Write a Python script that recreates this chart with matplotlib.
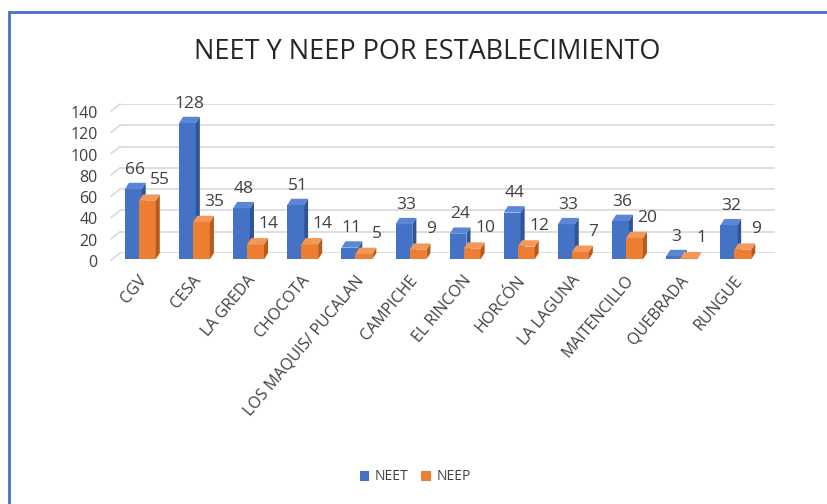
import matplotlib
matplotlib.use('Agg')
import matplotlib.pyplot as plt
import matplotlib.transforms as mtransforms
from matplotlib.patches import Polygon, Rectangle, Patch

plt.rcParams['font.family'] = ['Open Sans', 'DejaVu Sans']

# data
establecimientos = ['CGV', 'CESA', 'LA GREDA', 'CHOCOTA', 'LOS MAQUIS/ PUCALAN', 'CAMPICHE',
                    'EL RINCON', 'HORCÓN', 'LA LAGUNA', 'MAITENCILLO', 'QUEBRADA', 'RUNGUE']
neet = [66, 128, 48, 51, 11, 33, 24, 44, 33, 36, 3, 32]
neep = [55, 35, 14, 14, 5, 9, 10, 12, 7, 20, 1, 9]
yticks = [0, 20, 40, 60, 80, 100, 120, 140]

blue = '#4472C4'
blue_side = '#2F5597'
blue_top = '#5B86D6'
orange = '#ED7D31'
orange_side = '#B85A19'
orange_top = '#F4985A'
txt = '#404040'

fig = plt.figure(figsize=(8.27, 5.04), dpi=100)
ax = fig.add_axes([120 / 827, 1 - 253 / 504, (775 - 120) / 827, (253 - 104) / 504])
ax.set_ylim(0, 140)
ax.set_xlim(-0.46, 11.64)

dx = 0.075   # depth offset (x, data units)
dy = 6.0     # depth offset (y, data units)
w = 0.31


def bar3d(x, h, face, side, top, z):
    # back face sits at (x, 0..h); front is shifted down-left by the depth
    ax.add_patch(Rectangle((x - w / 2 - dx, -dy), w, h, facecolor=face,
                           edgecolor='none', zorder=z, clip_on=False))
    ax.add_patch(Polygon([(x + w / 2 - dx, -dy), (x + w / 2, 0), (x + w / 2, h),
                          (x + w / 2 - dx, h - dy)], closed=True, facecolor=side,
                         edgecolor='none', zorder=z, clip_on=False))
    ax.add_patch(Polygon([(x - w / 2 - dx, h - dy), (x - w / 2, h), (x + w / 2, h),
                          (x + w / 2 - dx, h - dy)], closed=True, facecolor=top,
                         edgecolor='none', zorder=z, clip_on=False))


for i, (a, b) in enumerate(zip(neet, neep)):
    xa = i - 0.14
    xb = i + 0.12
    bar3d(xa, a, blue, blue_side, blue_top, 3)
    bar3d(xb, b, orange, orange_side, orange_top, 4)
    ax.annotate(str(a), (xa - dx / 2, a), xytext=(0, 13), textcoords='offset pixels',
                ha='center', va='center', fontsize=12.5, color=txt, zorder=6)
    ax.annotate(str(b), (xb - dx / 2, b), xytext=(11, 14), textcoords='offset pixels',
                ha='center', va='center', fontsize=12.5, color=txt, zorder=6)

# gridlines with the little 3D slant at the left
for v in yticks:
    ax.axhline(v, color='#D9D9D9', lw=1.2, zorder=1)
    ax.plot([-0.46, -0.46 - 0.16], [v, v - 6.5], color='#D9D9D9', lw=1.2,
            clip_on=False, zorder=1)

ax.set_yticks(yticks)
ax.tick_params(axis='y', length=0, pad=16, labelsize=11.5, labelcolor=txt)
shift = mtransforms.ScaledTranslation(0, -8 / 100, fig.dpi_scale_trans)
for lab in ax.get_yticklabels():
    lab.set_transform(lab.get_transform() + shift)

ax.set_xticks(range(len(establecimientos)))
ax.set_xticklabels(establecimientos, rotation=50, ha='right', rotation_mode='anchor',
                   fontsize=11.5, color=txt)
ax.tick_params(axis='x', length=0, pad=14)
xshift = mtransforms.ScaledTranslation(-7 / 100, 0, fig.dpi_scale_trans)
for lab in ax.get_xticklabels():
    lab.set_transform(lab.get_transform() + xshift)
for s in ax.spines.values():
    s.set_visible(False)

fig.text(0.517, 1 - 52 / 504, 'NEET Y NEEP POR ESTABLECIMIENTO', ha='center', va='center',
         fontsize=19.5, color='#262626')

handles = [Patch(facecolor=blue, label='NEET'), Patch(facecolor=orange, label='NEEP')]
fig.legend(handles=handles, loc='center', bbox_to_anchor=(0.502, 1 - 477 / 504), ncol=2,
           frameon=False, fontsize=10, handlelength=0.7, handleheight=0.7,
           handletextpad=0.4, columnspacing=0.9, labelcolor=txt)

# blue frame around the chart area (runs off the right and bottom edges)
fig.patches.append(Rectangle((9 / 827, -0.1), 1.2, 1.1 - 12 / 504, transform=fig.transFigure,
                             fill=False, edgecolor=blue, lw=2))

fig.savefig('out.png', dpi=100)
